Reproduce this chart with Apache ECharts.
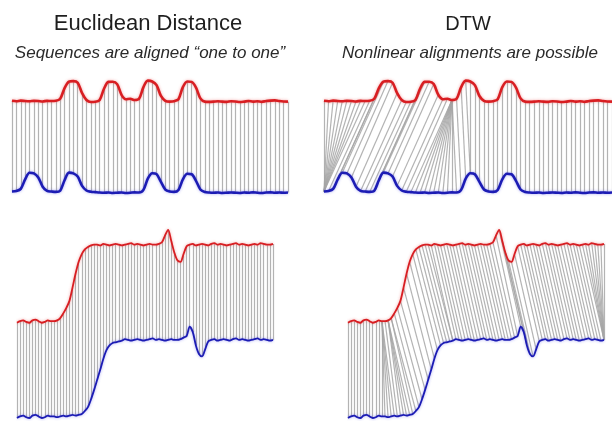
<!DOCTYPE html>
<html>
<head>
<meta charset="utf-8">
<script src="https://cdn.jsdelivr.net/npm/echarts@6/dist/echarts.min.js"></script>
<style>
  html, body { margin: 0; padding: 0; background: #fff; }
  #chart { width: 612px; height: 421px; }
</style>
</head>
<body>
<div id="chart"></div>
<script>
// top pair: four bumps, blue has the first two bumps earlier in time
const topRed = [
  0.02, 0, 0.03, 0.01, 0, 0.02, 0.01, -0.01, 0.02, 0.01, 0.02,
  0.12, 0.65, 0.97, 1.0, 0.92, 0.4, 0.06, -0.04, -0.03,
  0.06, 0.62, 0.96, 0.97, 0.85, 0.32, 0.1, 0.12, 0.06,
  0.12, 0.7, 1.02, 0.98, 0.8, 0.26, 0.02, -0.02, 0,
  0.1, 0.7, 0.98, 0.96, 0.68, 0.14, -0.02,
  -0.03, -0.02, 0, -0.02, -0.03, 0, -0.01, -0.04, -0.02, 0.01,
  -0.02, 0, -0.03, 0.01, 0.03, 0.04, 0.01, -0.01, -0.02
];
const topBlue = [
  0.02, 0.04, 0.15, 0.62, 0.95, 0.92, 0.72, 0.26, 0.05, 0.02, 0,
  0.06, 0.58, 0.96, 0.92, 0.76, 0.3, 0.07, 0.01,
  -0.01, -0.03, -0.04, -0.03, -0.05, -0.04, -0.03, -0.05, -0.04, -0.02, -0.03,
  0.1, 0.66, 0.93, 0.88, 0.5, 0.12, 0.02, 0,
  0.1, 0.62, 0.9, 0.88, 0.55, 0.12, 0,
  -0.03, -0.04, -0.03, -0.05, -0.04, -0.03, -0.04, -0.05, -0.03, -0.04,
  -0.02, -0.04, -0.05, -0.03, -0.02, -0.04, -0.03, -0.04, -0.03
];

// bottom pair: a step and a small wiggle, blue lags red by about 7 samples
const bottomRed = [
  0, 0.02, 0.03, 0.01, 0, 0.03, 0.04, 0.02, 0.0, 0.01, 0.03, 0.02, 0.02,
  0.03, 0.06, 0.12, 0.19, 0.28, 0.45, 0.63, 0.78, 0.88, 0.94, 0.97, 0.99, 1.0,
  1.0, 0.99, 1.01, 1.0, 0.99, 1.0, 1.01, 1.0, 0.99, 1.0, 1.01, 1.02, 1.0, 1.01,
  1.0, 0.99, 1.0, 1.01, 1.0, 1.0, 1.01,
  1.03, 1.12, 1.19, 1.05, 0.9, 0.8, 0.78, 0.88, 0.98,
  1.0, 1.01, 0.99, 1.0, 1.01, 1.0, 0.99, 1.01, 1.02, 1.0, 1.01, 1.0, 0.99, 1.0,
  1.01, 1.02, 1.0, 1.01, 1.0, 0.99, 1.0, 1.01, 1.0, 1.02, 1.01, 1.0, 1.0, 1.01
];
const bottomBlue = [
  0, 0.02, 0.03, 0.01, 0, 0.03, 0.04, 0.02, 0.0, 0.01, 0.03, 0.02, 0.02,
  0.01, 0.02, 0.03, 0.02, 0.03, 0.04, 0.03, 0.04,
  0.05, 0.09, 0.14, 0.24, 0.36, 0.49, 0.62, 0.76, 0.87, 0.93, 0.96, 0.97, 0.98,
  0.99, 1.01, 1.0, 0.99, 1.0, 1.01, 1.0, 0.99, 1.0, 1.01, 1.02, 1.0, 1.01, 1.0,
  0.99, 1.0, 1.01, 1.0, 1.0, 1.01, 1.03,
  1.05, 1.17, 1.1, 0.93, 0.82, 0.79, 0.88, 0.98,
  1.0, 1.01, 0.99, 1.0, 1.01, 1.0, 0.99, 1.01, 1.02, 1.0, 1.01, 1.0, 0.99, 1.0,
  1.01, 1.02, 1.0, 1.01, 1.0, 0.99, 1.0
];

const titles = ['Euclidean Distance', 'DTW'];
const subtitles = ['Sequences are aligned \u201cone to one\u201d', 'Nonlinear alignments are possible'];

const TOP_OFFSET = 4.5;     // red drawn above blue
const BOTTOM_OFFSET = 1.22;
const RED = '#d81e22';
const BLUE = '#1c1cb4';
const LINK = '#a6a6a6';
const STEP_PENALTY = 0.05;  // favour diagonal steps in flat stretches

// dynamic time warping, returns the warping path as [i, j] pairs
function dtwPath(a, b) {
  const n = a.length, m = b.length;
  const D = [];
  for (let i = 0; i < n; i++) {
    D.push(new Array(m).fill(Infinity));
  }
  for (let i = 0; i < n; i++) {
    for (let j = 0; j < m; j++) {
      const cost = Math.abs(a[i] - b[j]);
      if (i === 0 && j === 0) { D[i][j] = cost; continue; }
      let best = Infinity;
      if (i > 0) best = Math.min(best, D[i - 1][j] + STEP_PENALTY);
      if (j > 0) best = Math.min(best, D[i][j - 1] + STEP_PENALTY);
      if (i > 0 && j > 0) best = Math.min(best, D[i - 1][j - 1]);
      D[i][j] = cost + best;
    }
  }
  const path = [];
  let i = n - 1, j = m - 1;
  path.push([i, j]);
  while (i > 0 || j > 0) {
    if (i === 0) j--;
    else if (j === 0) i--;
    else {
      const d = D[i - 1][j - 1];
      const u = D[i - 1][j] + STEP_PENALTY;
      const l = D[i][j - 1] + STEP_PENALTY;
      if (d <= u && d <= l) { i--; j--; }
      else if (u < l) i--;
      else j--;
    }
    path.push([i, j]);
  }
  return path.reverse();
}

function euclidPairs(n) {
  const p = [];
  for (let i = 0; i < n; i++) p.push([i, i]);
  return p;
}

function panelSeries(idx, red, blue, offset, pairs, width) {
  return [
    {
      type: 'lines',
      coordinateSystem: 'cartesian2d',
      xAxisIndex: idx,
      yAxisIndex: idx,
      silent: true,
      z: 1,
      lineStyle: { color: LINK, width: 1.2, opacity: 0.85 },
      data: pairs.map(([i, j]) => ({ coords: [[i, red[i] + offset], [j, blue[j]]] }))
    },
    {
      type: 'line',
      xAxisIndex: idx,
      yAxisIndex: idx,
      showSymbol: false,
      smooth: 0.3,
      clip: false,
      z: 3,
      lineStyle: { color: RED, width: width, shadowColor: 'rgba(230,60,60,0.45)', shadowBlur: 3 },
      data: red.map((v, i) => [i, v + offset])
    },
    {
      type: 'line',
      xAxisIndex: idx,
      yAxisIndex: idx,
      showSymbol: false,
      smooth: 0.3,
      clip: false,
      z: 3,
      lineStyle: { color: BLUE, width: width, shadowColor: 'rgba(60,60,230,0.45)', shadowBlur: 3 },
      data: blue.map((v, i) => [i, v])
    }
  ];
}

const chart = echarts.init(document.getElementById('chart'));

const grids = [
  { left: 12, top: 71, width: 276, height: 131 },
  { left: 324, top: 71, width: 292, height: 131 },
  { left: 17, top: 215, width: 256, height: 203 },
  { left: 348, top: 215, width: 256, height: 203 }
];
const lengths = [topRed.length, topRed.length, bottomRed.length, bottomRed.length];
const yRanges = [[-0.5, 6], [-0.5, 6], [0, 2.6], [0, 2.6]];

const textItems = [];
[148, 468].forEach((x, k) => {
  textItems.push({
    type: 'text', x: x, y: 24,
    style: {
      text: titles[k], fill: '#1e1e1e',
      font: (k === 0 ? '22px' : '20px') + ' "Liberation Sans", Arial, sans-serif',
      align: 'center', verticalAlign: 'middle', textAlign: 'center', textVerticalAlign: 'middle'
    }
  });
  textItems.push({
    type: 'text', x: k === 0 ? 150 : 470, y: 53,
    style: {
      text: subtitles[k], fill: '#2a2a2a',
      font: 'italic 17px "Liberation Sans", Arial, sans-serif',
      align: 'center', verticalAlign: 'middle', textAlign: 'center', textVerticalAlign: 'middle'
    }
  });
});

const option = {
  animation: false,
  backgroundColor: '#fff',
  grid: grids,
  xAxis: grids.map((g, k) => ({
    type: 'value', gridIndex: k, min: 0, max: lengths[k] - 1, show: false
  })),
  yAxis: grids.map((g, k) => ({
    type: 'value', gridIndex: k, min: yRanges[k][0], max: yRanges[k][1], show: false
  })),
  graphic: textItems,
  series: [
    ...panelSeries(0, topRed, topBlue, TOP_OFFSET, euclidPairs(topRed.length), 2.6),
    ...panelSeries(1, topRed, topBlue, TOP_OFFSET, dtwPath(topRed, topBlue), 2.6),
    ...panelSeries(2, bottomRed, bottomBlue, BOTTOM_OFFSET, euclidPairs(bottomRed.length), 1.8),
    ...panelSeries(3, bottomRed, bottomBlue, BOTTOM_OFFSET, dtwPath(bottomRed, bottomBlue), 1.8)
  ]
};

chart.setOption(option);
</script>
</body>
</html>
